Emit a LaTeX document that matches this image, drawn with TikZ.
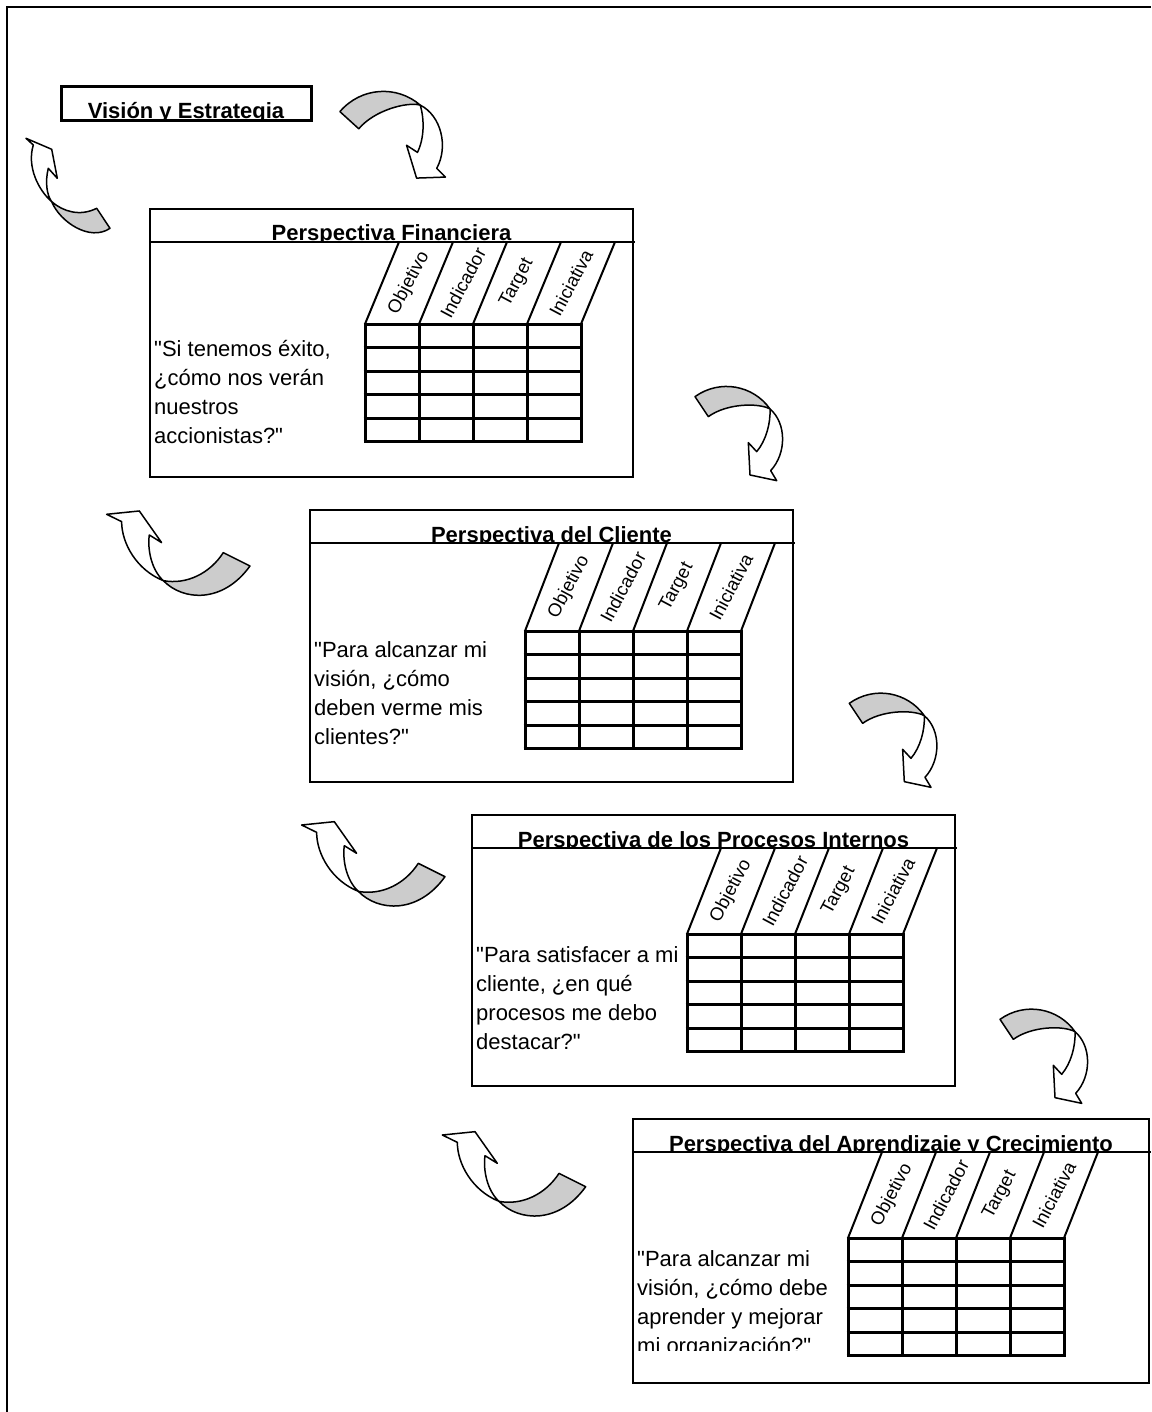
\documentclass[tikz,border=0pt]{standalone}
\usepackage{fontspec}
\setmainfont{Liberation Sans}[Ligatures=TeXOff]
\tikzset{
  frameline/.style={line width=2.5pt},
  pbox/.style={line width=2.5pt},
  tline/.style={line width=3pt},
  sline/.style={line width=2pt},
  quote/.style={font=\fontsize{22}{29}\selectfont, anchor=base west, inner sep=0pt},
  ttl/.style={font=\fontsize{22}{26}\selectfont\bfseries, anchor=base, inner sep=0pt},
  collab/.style={font=\fontsize{18.5}{20}\selectfont, rotate=62, inner sep=0pt},
  arr/.style={line width=1.5pt, line join=round},
  arrshade/.style={arr, fill=black!20},
  arrbody/.style={arr, fill=white},
}
% curved arrow turning down (right side)
\newcommand\arrowdown[4]{%
 \begin{scope}[shift={(#1,#2)}, rotate=#3, scale=#4]
  \draw[arrbody] (30,-24.33) .. controls (46.67,-10) and (46.67,20) .. (30.67,37.33)
     -- (36.67,47.33) -- (10,41.67) -- (8.33,9.33) -- (16.67,18.33)
     .. controls (26,7.33) and (30.67,-10) .. cycle;
  \draw[arrshade] (-45,-36.67) .. controls (-20,-54.5) and (13.33,-48) .. (30,-24.33)
     .. controls (18.33,-30.67) and (-13.33,-30) .. (-31.67,-16.67) -- cycle;
 \end{scope}}
% curved arrow turning up (left side)
\newcommand\arrowup[4]{%
 \begin{scope}[shift={(#1,#2)}, rotate=#3, scale=#4]
  \draw[arrbody] (-15,27.33) .. controls (-41.67,16.67) and (-56.67,-10) .. (-56.67,-31.67)
     -- (-71.67,-39) -- (-39,-42.33) -- (-16.67,-10.67) -- (-29,-18.33)
     .. controls (-31,-3.33) and (-26.67,16.67) .. cycle;
  \draw[arrshade] (45,-0.67) .. controls (31.67,20) and (8.33,31.67) .. (-15,27.33)
     .. controls (5,48) and (45,50) .. (71.67,12.67) -- cycle;
 \end{scope}}
% panel: #1 name, #2 X, #3 Y, #4 W, #5 H, #6 title, #7 table offset
\newcommand\bscpanel[7]{%
 \draw[pbox] (#2,#3) rectangle ++(#4,#5);
 \draw[pbox] (#2,#3+33) -- ++(#4+2,0);
 \begin{scope}
  \clip (#2,#3) rectangle (#2+#4,#3+32);
  \node[ttl] (#1-title) at (#2+#4/2,#3+32) {#6};
 \end{scope}
 \pgfmathsetmacro\TX{#2+215}\pgfmathsetmacro\TY{#3+#7}\pgfmathsetmacro\HY{#3+33}
 \foreach \i in {0,...,4}{\draw[sline] (\TX+54*\i,\TY) -- (\TX+54*\i+34,\HY);}
 \foreach \i in {0,...,4}{\draw[tline] (\TX+54*\i,\TY) -- (\TX+54*\i,\TY+117.5);}
 \foreach \j in {0,...,5}{\draw[tline] (\TX-1.5,\TY+23.5*\j) -- (\TX+217.5,\TY+23.5*\j);}
 \foreach \t [count=\i from 0] in {Objetivo,Indicador,Target,Iniciativa}
   {\node[collab] (#1-\t) at (\TX+54*\i+44,{(\HY+\TY)/2}) {\t};}
}
\newcommand\quotelines[7]{%
 \node[quote] (#1-q1) at (#2+4,#3+147) {#4};
 \node[quote] (#1-q2) at (#2+4,#3+176.3) {#5};
 \node[quote] (#1-q3) at (#2+4,#3+205.6) {#6};
 \node[quote] (#1-q4) at (#2+4,#3+234.9) {#7};
}
\begin{document}
\begin{tikzpicture}[x=1pt,y=-1pt]
\useasboundingbox (0,0) rectangle (1151,1412);
% outer frame
\draw[frameline] (7,1412) -- (7,7) -- (1151,7);
% vision box
\draw[line width=3pt] (61,87) rectangle (311,121);
\begin{scope}
 \clip (61,87) rectangle (311,119.5);
 \node[ttl] (vision) at (186,118.5) {Visión y Estrategia};
\end{scope}
% panels
\bscpanel{fin}{150}{209}{483}{268}{Perspectiva Financiera}{115}
\quotelines{fin}{150}{209}{"Si tenemos éxito,}{¿cómo nos verán}{nuestros}{accionistas?"}
\bscpanel{cli}{310}{510}{483}{272}{Perspectiva del Cliente}{121}
\quotelines{cli}{310}{510}{"Para alcanzar mi}{visión, ¿cómo}{deben verme mis}{clientes?"}
\bscpanel{pro}{472}{815}{483}{271}{Perspectiva de los Procesos Internos}{119}
\quotelines{pro}{472}{815}{"Para satisfacer a mi}{cliente, ¿en qué}{procesos me debo}{destacar?"}
\bscpanel{apr}{633}{1119}{516}{264}{Perspectiva del Aprendizaje y Crecimiento}{119}
\begin{scope}
 \clip (633,1119) rectangle (846,1350);
 \quotelines{apr}{633}{1119}{"Para alcanzar mi}{visión, ¿cómo debe}{aprender y mejorar}{mi organización?"}
\end{scope}
% arrows right side
\arrowdown{395.6}{137.8}{14}{1.06}
\arrowdown{740}{433.3}{0}{1}
\arrowdown{894.3}{740}{0}{1}
\arrowdown{1045}{1056}{0}{1}
% arrows left side
\begin{scope}
 \draw[arrbody] (51.7,201.7) .. controls (38.3,190) and (26.7,166.7) .. (33.3,145)
   -- (26,138.3) -- (51.7,149.3) -- (57.3,178.3) -- (48.3,168.3)
   .. controls (45,181.7) and (46.7,195) .. cycle;
 \draw[arrshade] (96.7,208.3) .. controls (80,216.7) and (63.3,211.7) .. (51.7,201.7)
   .. controls (60,222) and (90,242) .. (110,228.3) -- cycle;
\end{scope}
\arrowup{178.3}{553.3}{0}{1}
\arrowup{373.3}{864}{0}{1}
\arrowup{514}{1174}{0}{1}
\end{tikzpicture}
\end{document}
